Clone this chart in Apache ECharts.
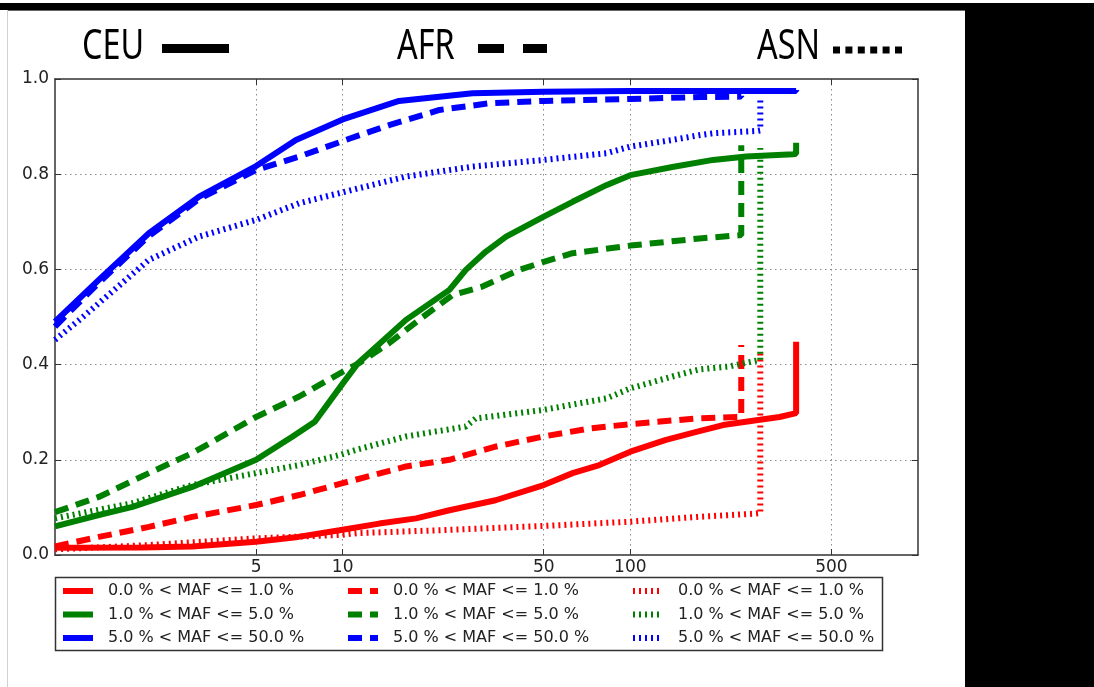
<!DOCTYPE html>
<html>
<head>
<meta charset="utf-8">
<script src="https://cdn.jsdelivr.net/npm/echarts@6/dist/echarts.min.js"></script>
<style>
  html, body { margin: 0; padding: 0; background: #fff; }
  #chart { width: 1094px; height: 687px; }
</style>
</head>
<body>
<div id="chart"></div>
<script>
// Axis ticks
const xTicks = [5, 10, 50, 100, 500];
const yTicks = [0, 0.2, 0.4, 0.6, 0.8, 1.0];

// Legend / group names
const populations = ['CEU', 'AFR', 'ASN'];
const mafBins = ['0.0 % < MAF <= 1.0 %', '1.0 % < MAF <= 5.0 %', '5.0 % < MAF <= 50.0 %'];

// Cumulative fractions, [x, fraction] pairs per population and MAF bin
const ceuLow = [[1, 0.015], [2, 0.016], [3, 0.018], [5, 0.028], [7, 0.038], [9.75, 0.052], [13.4, 0.066], [18, 0.077], [23.5, 0.094], [34, 0.115], [50, 0.147], [63, 0.172], [78, 0.189], [100, 0.217], [133, 0.242], [171, 0.259], [210, 0.273], [282, 0.284], [330, 0.290], [377, 0.298], [377, 0.448]];
const ceuMid = [[1, 0.060], [1.42, 0.084], [1.86, 0.101], [3, 0.143], [5, 0.200], [6.7, 0.249], [8, 0.280], [10, 0.360], [11.3, 0.403], [16.6, 0.494], [23.5, 0.557], [26.8, 0.599], [31.4, 0.637], [37, 0.669], [50, 0.711], [63, 0.742], [82.5, 0.777], [100, 0.798], [140, 0.815], [194, 0.830], [253, 0.837], [368, 0.842], [377, 0.843], [377, 0.866]];
const ceuHigh = [[1, 0.490], [1.42, 0.578], [2.12, 0.676], [3.17, 0.753], [5, 0.817], [6.88, 0.872], [10, 0.915], [15.7, 0.954], [28.3, 0.970], [50, 0.973], [100, 0.975], [377, 0.975], [377, 0.977]];

const afrLow = [[1, 0.018], [1.42, 0.038], [2.12, 0.059], [3, 0.080], [5, 0.105], [7.06, 0.126], [10, 0.151], [16.6, 0.186], [23.5, 0.200], [34.2, 0.228], [50, 0.249], [72.5, 0.266], [100, 0.275], [171, 0.287], [243, 0.290], [243, 0.441]];
const afrMid = [[1, 0.090], [1.42, 0.122], [2.12, 0.172], [3, 0.214], [5, 0.290], [7.06, 0.333], [10, 0.385], [11.4, 0.403], [14.5, 0.445], [19, 0.500], [24.1, 0.546], [30.6, 0.564], [41.2, 0.599], [50, 0.616], [63, 0.634], [100, 0.650], [174, 0.665], [243, 0.672], [243, 0.861]];
const afrHigh = [[1, 0.480], [1.42, 0.572], [2.12, 0.670], [3.17, 0.748], [5, 0.809], [7.06, 0.837], [10.6, 0.875], [14.5, 0.903], [21.7, 0.935], [32.4, 0.949], [50, 0.954], [100, 0.958], [174, 0.962], [243, 0.963], [243, 0.965]];

const asnLow = [[1, 0.012], [2, 0.020], [5, 0.035], [9.75, 0.042], [11.3, 0.046], [21.7, 0.052], [50, 0.061], [100, 0.070], [171, 0.080], [273, 0.087], [283, 0.088], [283, 0.430]];
const asnMid = [[1, 0.077], [1.86, 0.109], [3, 0.147], [5, 0.172], [7.06, 0.189], [9.75, 0.210], [11.3, 0.222], [16.6, 0.249], [26.8, 0.270], [29, 0.287], [50, 0.305], [82.5, 0.329], [100, 0.350], [140, 0.375], [174, 0.390], [220, 0.396], [283, 0.410], [283, 0.855]];
const asnHigh = [[1, 0.452], [1.25, 0.500], [2.12, 0.620], [3.17, 0.669], [5, 0.704], [7.06, 0.739], [10, 0.762], [16.6, 0.795], [28.3, 0.816], [50, 0.830], [82.5, 0.844], [100, 0.858], [140, 0.872], [174, 0.882], [194, 0.886], [277, 0.891], [283, 0.892], [283, 0.963]];

const groups = [
  [ceuLow, ceuMid, ceuHigh],
  [afrLow, afrMid, afrHigh],
  [asnLow, asnMid, asnHigh]
];

const binColors = ['#ff0000', '#008000', '#0000ff'];
const popDash = ['solid', [14, 8], [2, 4]];
const LINE_W = 6;

const series = [];
groups.forEach((bins, p) => {
  bins.forEach((pts, b) => {
    series.push({
      name: populations[p] + ' ' + mafBins[b],
      type: 'line',
      data: pts,
      showSymbol: false,
      symbol: 'none',
      silent: true,
      lineStyle: { color: binColors[b], width: LINE_W, type: popDash[p], cap: 'butt' }
    });
  });
});

// Plot rectangle
const G = { left: 55, top: 79, width: 863, height: 476 };
const frameColor = '#333';
const frameWidth = 1.5;
const textColor = '#222';
const tickFont = 'DejaVu Sans';

const graphic = [];
// dark page edges
graphic.push({ type: 'rect', silent: true, shape: { x: 0, y: 3, width: 1094, height: 7 }, style: { fill: '#000' } });
graphic.push({ type: 'rect', silent: true, shape: { x: 965, y: 3, width: 129, height: 684 }, style: { fill: '#000' } });
graphic.push({ type: 'line', silent: true, shape: { x1: 7, y1: 10.5, x2: 965, y2: 10.5 }, style: { stroke: '#666', lineWidth: 1 } });
graphic.push({ type: 'line', silent: true, shape: { x1: 7.5, y1: 10, x2: 7.5, y2: 687 }, style: { stroke: '#d0d0d0', lineWidth: 1 } });

// population headers with line-style keys
const headX = [82, 397, 757];
populations.forEach((name, i) => {
  graphic.push({
    type: 'text', silent: true, x: headX[i], y: 47, scaleX: 0.77,
    style: { text: name, x: 0, y: 0, fill: '#000', font: '42px "Noto Sans"', align: 'left', verticalAlign: 'middle' }
  });
});
graphic.push({ type: 'rect', silent: true, shape: { x: 162, y: 44, width: 67, height: 9 }, style: { fill: '#000' } });
graphic.push({ type: 'rect', silent: true, shape: { x: 478, y: 44, width: 26, height: 9 }, style: { fill: '#000' } });
graphic.push({ type: 'rect', silent: true, shape: { x: 523, y: 44, width: 24, height: 9 }, style: { fill: '#000' } });
for (let k = 0; k < 6; k++) {
  graphic.push({ type: 'rect', silent: true, shape: { x: 833 + k * 12.4, y: 46.5, width: 7, height: 7 }, style: { fill: '#000' } });
}

// legend box
graphic.push({ type: 'rect', silent: true, shape: { x: 55.5, y: 577.5, width: 827, height: 73 }, style: { fill: '#fff', stroke: frameColor, lineWidth: frameWidth } });
const legColX = [63, 348, 633];
const legRowY = [591, 614.5, 638];
populations.forEach((pop, c) => {
  mafBins.forEach((label, r) => {
    graphic.push({
      type: 'line', silent: true,
      shape: { x1: legColX[c], y1: legRowY[r], x2: legColX[c] + 30, y2: legRowY[r] },
      style: { stroke: binColors[r], lineWidth: LINE_W, lineDash: popDash[c] === 'solid' ? null : popDash[c], lineCap: 'butt' }
    });
    graphic.push({
      type: 'text', silent: true, x: legColX[c] + 45, y: legRowY[r],
      style: { text: label, fill: textColor, font: '16px "DejaVu Sans"', align: 'left', verticalAlign: 'middle' }
    });
  });
});

const gridLine = { show: true, lineStyle: { color: '#8a8a8a', width: 1, type: [1.5, 3.5] } };

const option = {
  animation: false,
  backgroundColor: '#fff',
  grid: { left: G.left, top: G.top, width: G.width, height: G.height, show: false },
  xAxis: [
    {
      type: 'log', logBase: 10, min: 1, max: 1000, position: 'bottom',
      axisLine: { show: true, onZero: false, lineStyle: { color: frameColor, width: frameWidth } },
      axisTick: { show: true, inside: true, length: 6, customValues: xTicks, lineStyle: { color: frameColor } },
      minorTick: { show: false },
      axisLabel: {
        show: true, customValues: xTicks, margin: 4, color: textColor,
        fontFamily: tickFont, fontSize: 17,
        formatter: v => String(Math.round(v))
      },
      splitLine: gridLine,
      minorSplitLine: { show: false }
    },
    {
      type: 'log', logBase: 10, min: 1, max: 1000, position: 'top',
      axisLine: { show: true, onZero: false, lineStyle: { color: frameColor, width: frameWidth } },
      axisTick: { show: true, inside: true, length: 6, customValues: xTicks, lineStyle: { color: frameColor } },
      axisLabel: { show: false },
      splitLine: { show: false }
    }
  ],
  yAxis: [
    {
      type: 'value', min: 0, max: 1, interval: 0.2, position: 'left',
      axisLine: { show: true, onZero: false, lineStyle: { color: frameColor, width: frameWidth } },
      axisTick: { show: true, inside: true, length: 6, lineStyle: { color: frameColor } },
      axisLabel: {
        show: true, margin: 6, color: textColor, fontFamily: tickFont, fontSize: 17,
        formatter: v => v.toFixed(1)
      },
      splitLine: Object.assign({ showMinLine: false, showMaxLine: false }, gridLine)
    },
    {
      type: 'value', min: 0, max: 1, interval: 0.2, position: 'right',
      axisLine: { show: true, onZero: false, lineStyle: { color: frameColor, width: frameWidth } },
      axisTick: { show: true, inside: true, length: 6, lineStyle: { color: frameColor } },
      axisLabel: { show: false },
      splitLine: { show: false }
    }
  ],
  series: series,
  graphic: graphic
};

const chart = echarts.init(document.getElementById('chart'), null, { renderer: 'canvas' });
chart.setOption(option);
</script>
</body>
</html>
